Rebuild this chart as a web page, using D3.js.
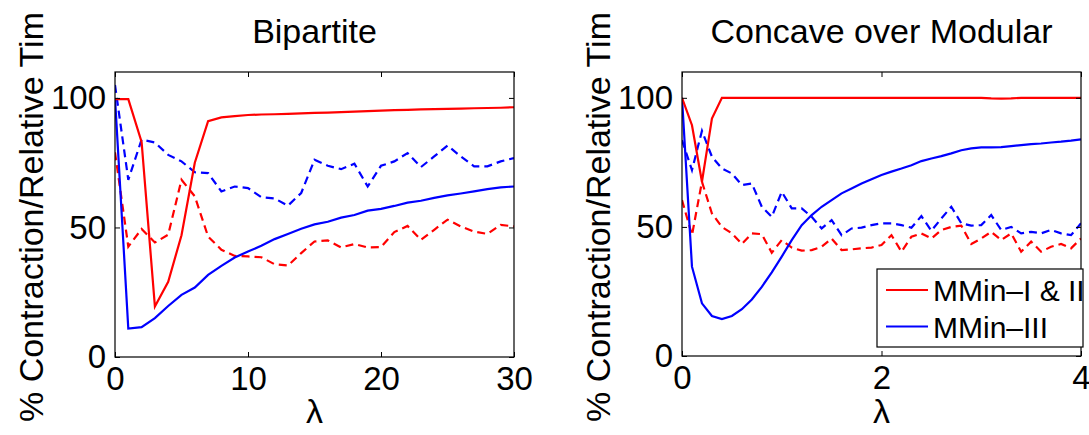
<html>
<head>
    <title>Contraction / relative time</title>
    <script src="https://d3js.org/d3.v7.min.js"></script>
    <style>
        body { margin:0; background:white; }
        text { font-family: "Liberation Sans", Arial, Helvetica, sans-serif; fill:black; }
        .box { fill:none; stroke:black; stroke-width:1.2; }
        .tick line { stroke:black; stroke-width:1; }
    </style>
</head>
<body>
    <svg id="fig" width="1089" height="435"></svg>

    <script>
        // ---- data ----
        var lamBip = [0,1,2,3,4,5,6,7,8,9,10,11,12,13,14,15,16,17,18,19,20,21,22,23,24,25,26,27,28,29,30];
        var bipRedSolid  = [99.5,99.5,83,19.5,29,47,75,91,92.5,93,93.4,93.6,93.7,93.8,94,94.2,94.3,94.5,94.7,94.9,95.1,95.3,95.4,95.6,95.7,95.8,95.9,96,96.1,96.2,96.4];
        var bipBlueSolid = [100,11,11.5,15,19.7,24,26.8,31.7,35.2,38.4,40.7,42.9,45.5,47.5,49.5,51.2,52.2,53.8,54.8,56.5,57.2,58.3,59.6,60.3,61.4,62.4,63.1,63.9,64.8,65.5,65.8];
        var bipRedDash   = [79,42.6,49.4,44.2,47.2,68.4,62,46.5,41.4,39,38.8,38.5,35.8,35.3,40.1,44.6,45,42.3,43.6,42.3,42.4,48.2,50.6,45.2,49.1,53,50.4,48.4,47.5,51,50.4];
        var bipBlueDash  = [105,68.4,83.9,82.8,78,75.5,71.3,71,63.9,65.8,65.2,61.7,61.2,58.4,63.3,76.1,73.8,72.5,74.6,65.8,73.8,75.5,78.7,73.3,77.4,81.6,77.4,73.6,73.6,75.5,76.8];

        var lamCom = [0,0.1,0.2,0.3,0.4,0.5,0.6,0.7,0.8,0.9,1,1.1,1.2,1.3,1.4,1.5,1.6,1.7,1.8,1.9,2,2.1,2.2,2.3,2.4,2.5,2.6,2.7,2.8,2.9,3,3.1,3.2,3.3,3.4,3.5,3.6,3.7,3.8,3.9,4];
        var comRedSolid  = [100,89.4,67.5,92,100,100,100,100,100,100,100,100,100,100,100,100,100,100,100,100,100,100,100,100,100,100,100,100,100,100,100,99.8,99.7,99.8,100,100,100,100,100,100,100];
        var comBlueSolid = [100,34.6,20.4,15.5,14.3,15.5,18.1,21.9,26.8,32.4,38.5,44.9,50.7,54.6,57.8,60.4,63,64.9,66.8,68.5,70.1,71.4,72.6,73.9,75.5,76.5,77.4,78.5,79.7,80.4,80.8,80.8,80.9,81.3,81.7,82.1,82.3,82.7,83,83.4,83.9];
        var comRedDash   = [60.4,46.8,67.5,55.2,50,47.5,43.4,47.5,47.2,40,44.9,42,40.8,41,42.3,45.5,41,41.3,41.7,42,43,46.8,40.4,46.2,47.5,45.5,48.8,50,50.5,43.4,45.5,48.1,44.9,47.5,40.4,44.3,40.4,42.3,43.4,41.7,45.5];
        var comBlueDash  = [83.6,72,87.2,77.2,72.6,70.7,66.2,66.8,57.8,53.9,63.6,57.2,57.2,53.9,49.4,52.6,46.8,49.4,49.7,50.7,51.4,51.4,50.7,49.7,54.2,48.5,53.3,57.8,51.4,50.5,50.7,54.6,48.8,50,47.5,48.1,47.5,48.8,47.5,46.8,51.4];

        var yTicks = [0,50,100];
        var legendNames = ["MMin\u2013I & II", "MMin\u2013III"];
        var yLabel = "% Contraction/Relative Tim";

        var svg = d3.select("#fig");

        var panels = [
            { id:"bip", title:"Bipartite", xs:lamBip, xmax:30, xticks:[0,10,20,30],
              left:115, right:514, top:72, bottom:357,
              series:[[bipRedDash,"red",true],[bipBlueDash,"blue",true],[bipBlueSolid,"blue",false],[bipRedSolid,"red",false]] },
            { id:"com", title:"Concave over Modular", xs:lamCom, xmax:4, xticks:[0,2,4],
              left:682, right:1081, top:72, bottom:356,
              series:[[comRedDash,"red",true],[comBlueDash,"blue",true],[comBlueSolid,"blue",false],[comRedSolid,"red",false]] }
        ];

        panels.forEach(function(p){
            var x = d3.scaleLinear().domain([0, p.xmax]).range([p.left, p.right]);
            var y = d3.scaleLinear().domain([0, 110]).range([p.bottom, p.top]);

            svg.append("clipPath").attr("id", "clip-" + p.id)
                .append("rect")
                .attr("x", p.left).attr("y", p.top)
                .attr("width", p.right - p.left).attr("height", p.bottom - p.top);

            // data lines
            p.series.forEach(function(s){
                var line = d3.line()
                    .x(function(d, i){ return x(p.xs[i]); })
                    .y(function(d){ return y(d); });
                svg.append("path")
                    .attr("clip-path", "url(#clip-" + p.id + ")")
                    .attr("d", line(s[0]))
                    .style("fill", "none")
                    .style("stroke", s[1])
                    .style("stroke-width", 2.2)
                    .style("stroke-dasharray", s[2] ? "8,5" : null);
            });

            // axes, ticks pointing inward
            svg.append("g").attr("transform", "translate(0," + p.bottom + ")")
                .call(d3.axisBottom(x).tickValues(p.xticks).tickFormat(d3.format("d")).tickSize(-5).tickSizeOuter(0).tickPadding(10))
                .call(function(g){ g.select(".domain").remove(); })
                .selectAll("text").style("font-size", "33px");
            svg.append("g").attr("transform", "translate(0," + p.top + ")")
                .call(d3.axisTop(x).tickValues(p.xticks).tickSize(-5).tickSizeOuter(0).tickFormat(""))
                .call(function(g){ g.select(".domain").remove(); });
            svg.append("g").attr("transform", "translate(" + p.left + ",0)")
                .call(d3.axisLeft(y).tickValues(yTicks).tickSize(-5).tickSizeOuter(0).tickPadding(9))
                .call(function(g){ g.select(".domain").remove(); })
                .selectAll("text").style("font-size", "33px");
            svg.append("g").attr("transform", "translate(" + p.right + ",0)")
                .call(d3.axisRight(y).tickValues(yTicks).tickSize(-5).tickSizeOuter(0).tickFormat(""))
                .call(function(g){ g.select(".domain").remove(); });

            svg.append("rect").attr("class", "box")
                .attr("x", p.left).attr("y", p.top)
                .attr("width", p.right - p.left).attr("height", p.bottom - p.top);

            // titles and labels
            svg.append("text")
                .attr("x", (p.left + p.right) / 2).attr("y", 43)
                .attr("text-anchor", "middle")
                .style("font-size", "34px")
                .text(p.title);

            svg.append("text")
                .attr("x", (p.left + p.right) / 2).attr("y", 423)
                .attr("text-anchor", "middle")
                .style("font-size", "34px")
                .text("\u03bb");

            svg.append("text")
                .attr("transform", "translate(" + (p.left - 72) + ",12) rotate(-90)")
                .attr("text-anchor", "end")
                .style("font-size", "34px")
                .text(yLabel);

            if (p.id == "com") {
                var lg = svg.append("g");
                lg.append("rect")
                    .attr("x", 877).attr("y", 269).attr("width", 206).attr("height", 78)
                    .style("fill", "white").style("stroke", "black").style("stroke-width", 1.2);
                legendNames.forEach(function(name, i){
                    var ly = 290 + i * 36.5;
                    lg.append("line")
                        .attr("x1", 886).attr("x2", 928).attr("y1", ly).attr("y2", ly)
                        .style("stroke", i == 0 ? "red" : "blue").style("stroke-width", 2);
                    lg.append("text")
                        .attr("x", 933).attr("y", ly + 11)
                        .style("font-size", "30px")
                        .text(name);
                });
            }
        });
    </script>
</body>
</html>
